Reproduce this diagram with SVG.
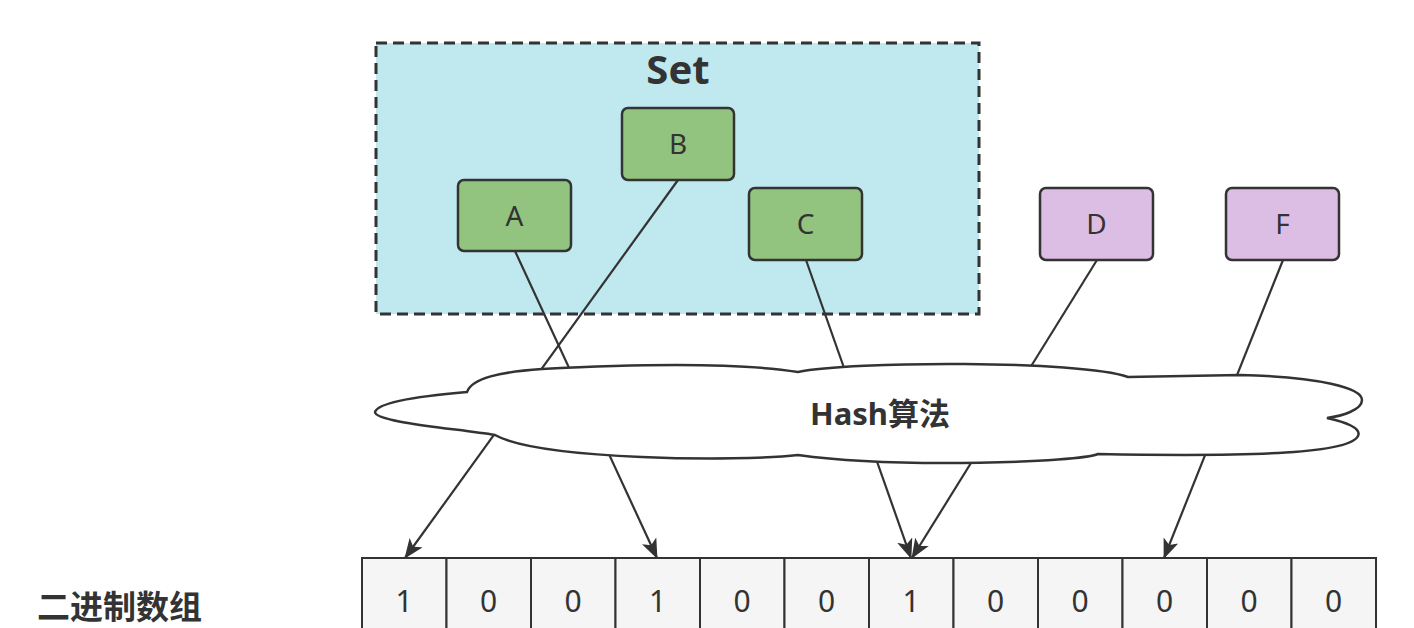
<svg xmlns="http://www.w3.org/2000/svg" width="1414" height="628" viewBox="0 0 1414 628">
<style>
.node rect{stroke:#333;stroke-width:2.5}
.green rect{fill:#93c47f}
.purple rect{fill:#dcbde3}
.lbl{font-family:"Noto Sans","Liberation Sans",sans-serif;font-size:28px;fill:#333;text-anchor:middle}
.cell rect{fill:#f5f5f5;stroke:#333;stroke-width:2}
.num{font-family:"Noto Sans","Liberation Sans",sans-serif;font-size:30px;fill:#333;text-anchor:middle}
.edge{stroke:#333;stroke-width:2.2;fill:none;marker-end:url(#arr)}
.bold{font-family:"Noto Sans","Noto Sans CJK SC",sans-serif;font-weight:bold;fill:#333}
</style>
<defs>
<marker id="arr" markerWidth="20" markerHeight="16" refX="19" refY="8" orient="auto" markerUnits="userSpaceOnUse" viewBox="0 0 20 16">
<path d="M0,0 L20,8 L0,16 L5,8 Z" fill="#333"/>
</marker>
</defs>
<rect width="1414" height="628" fill="#fff"/>
<g id="set">
<rect x="376" y="43" width="603" height="271" fill="#bfe9ef" stroke="#333" stroke-width="3" stroke-dasharray="11 6"/>
<text x="678" y="84" class="bold" font-size="40" text-anchor="middle">Set</text>
</g>
<g id="connectors">
<line class="edge" x1="515" y1="251" x2="657" y2="558"/>
<line class="edge" x1="678" y1="180" x2="405" y2="558"/>
<line class="edge" x1="806" y1="260" x2="911" y2="558"/>
<line class="edge" x1="1097" y1="260" x2="912" y2="558"/>
<line class="edge" x1="1283" y1="260" x2="1164" y2="558"/>
</g>
<g id="nodeA" class="node green"><rect x="458" y="180" width="113" height="71" rx="6"/><text x="514.5" y="226" class="lbl">A</text></g>
<g id="nodeB" class="node green"><rect x="622" y="108" width="112" height="72" rx="6"/><text x="678" y="154" class="lbl">B</text></g>
<g id="nodeC" class="node green"><rect x="749" y="188" width="113" height="72" rx="6"/><text x="805.5" y="234" class="lbl">C</text></g>
<g id="nodeD" class="node purple"><rect x="1040" y="188" width="113" height="72" rx="6"/><text x="1096.5" y="234" class="lbl">D</text></g>
<g id="nodeF" class="node purple"><rect x="1226" y="188" width="113" height="72" rx="6"/><text x="1282.5" y="234" class="lbl">F</text></g>
<g id="hash">
<path d="M375 412 C378 402 420 396 467 392 C472 378 500 372 542 369 C640 364 740 363 798 372 C850 361 1080 360 1128 377 L1240 375 C1320 377 1362 388 1362 400 C1362 410 1342 416 1327 418 C1345 422 1362 428 1358 436 C1350 453 1260 457 1098 454 C1080 462 900 469 798 455 C740 462 540 460 495 435 C450 428 375 422 375 412 Z" fill="#fff" stroke="#333" stroke-width="2.5"/>
<text x="880" y="425" class="bold" font-size="31" text-anchor="middle">Hash算法</text>
</g>
<g id="array">
<g class="cell"><rect x="362" y="558" width="84.5" height="90"/><text x="404" y="612" class="num">1</text></g>
<g class="cell"><rect x="446.5" y="558" width="84.5" height="90"/><text x="488.5" y="612" class="num">0</text></g>
<g class="cell"><rect x="531" y="558" width="84.5" height="90"/><text x="573" y="612" class="num">0</text></g>
<g class="cell"><rect x="615.5" y="558" width="84.5" height="90"/><text x="657.5" y="612" class="num">1</text></g>
<g class="cell"><rect x="700" y="558" width="84.5" height="90"/><text x="742" y="612" class="num">0</text></g>
<g class="cell"><rect x="784.5" y="558" width="84.5" height="90"/><text x="826.5" y="612" class="num">0</text></g>
<g class="cell"><rect x="869" y="558" width="84.5" height="90"/><text x="911" y="612" class="num">1</text></g>
<g class="cell"><rect x="953.5" y="558" width="84.5" height="90"/><text x="995.5" y="612" class="num">0</text></g>
<g class="cell"><rect x="1038" y="558" width="84.5" height="90"/><text x="1080" y="612" class="num">0</text></g>
<g class="cell"><rect x="1122.5" y="558" width="84.5" height="90"/><text x="1164.5" y="612" class="num">0</text></g>
<g class="cell"><rect x="1207" y="558" width="84.5" height="90"/><text x="1249" y="612" class="num">0</text></g>
<g class="cell"><rect x="1291.5" y="558" width="84.5" height="90"/><text x="1333.5" y="612" class="num">0</text></g>
</g>
<g id="label">
<text x="37" y="619" class="bold" font-size="33">二进制数组</text>
</g>
</svg>
